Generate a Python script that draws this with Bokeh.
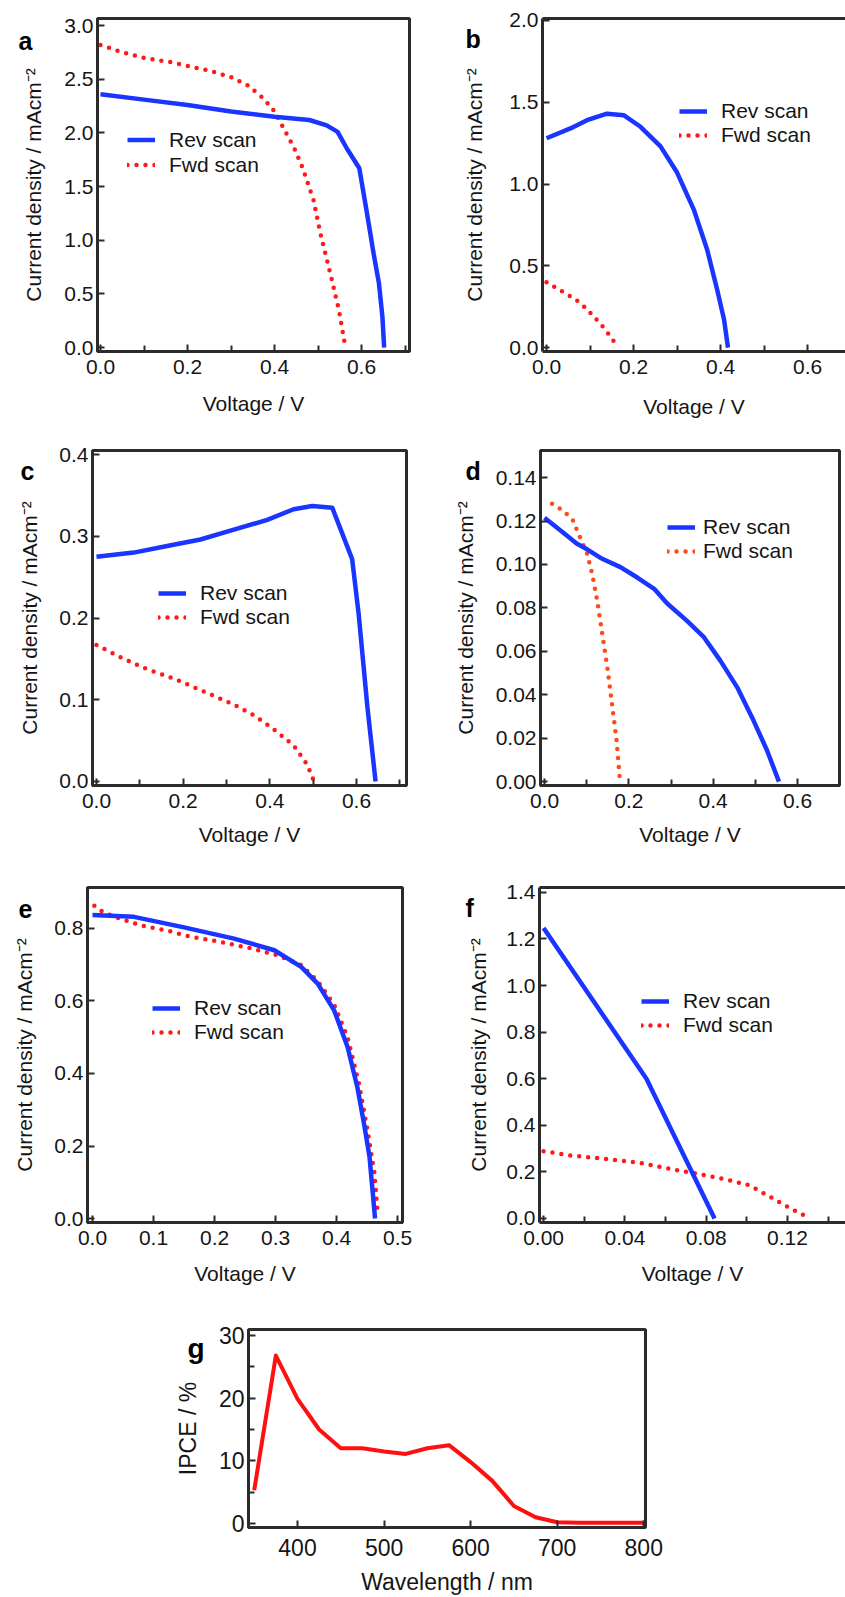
from bokeh.plotting import figure
from bokeh.layouts import column, row
from bokeh.models import (FixedTicker, PrintfTickFormatter, Legend, Label,
                          LegendItem, Range1d, Spacer, LinearAxis)
from bokeh.embed import file_html
from bokeh.resources import INLINE

# ---------------- data ----------------
a_rev_v = [0.00, 0.10, 0.20, 0.30, 0.40, 0.48, 0.52, 0.545, 0.567, 0.595, 0.613, 0.628, 0.64, 0.648, 0.652]
a_rev_j = [2.36, 2.31, 2.26, 2.20, 2.15, 2.12, 2.07, 2.01, 1.85, 1.67, 1.24, 0.87, 0.60, 0.29, 0.0]
a_fwd_v = [0.00, 0.05, 0.10, 0.16, 0.25, 0.30, 0.34, 0.375, 0.40, 0.42, 0.445, 0.465, 0.49, 0.505, 0.53, 0.548, 0.563]
a_fwd_j = [2.82, 2.75, 2.70, 2.66, 2.58, 2.52, 2.44, 2.32, 2.20, 2.05, 1.86, 1.67, 1.37, 1.07, 0.66, 0.35, 0.0]

b_rev_v = [0.0, 0.055, 0.093, 0.139, 0.178, 0.216, 0.262, 0.30, 0.339, 0.369, 0.392, 0.408, 0.417]
b_rev_j = [1.28, 1.34, 1.39, 1.43, 1.42, 1.35, 1.23, 1.07, 0.84, 0.60, 0.355, 0.17, 0.0]
b_fwd_v = [0.0, 0.025, 0.048, 0.069, 0.091, 0.112, 0.132, 0.149, 0.165]
b_fwd_j = [0.40, 0.36, 0.325, 0.29, 0.24, 0.18, 0.12, 0.06, 0.0]

c_rev_v = [0.0, 0.086, 0.163, 0.24, 0.317, 0.394, 0.455, 0.498, 0.544, 0.59, 0.605, 0.625, 0.644]
c_rev_j = [0.275, 0.28, 0.288, 0.296, 0.308, 0.32, 0.333, 0.337, 0.335, 0.272, 0.205, 0.092, 0.0]
c_fwd_v = [0.0, 0.048, 0.109, 0.178, 0.248, 0.317, 0.363, 0.409, 0.455, 0.486, 0.502]
c_fwd_j = [0.167, 0.154, 0.139, 0.126, 0.11, 0.094, 0.081, 0.064, 0.044, 0.021, 0.0]

d_rev_v = [0.0, 0.038, 0.077, 0.101, 0.133, 0.18, 0.22, 0.26, 0.291, 0.338, 0.378, 0.417, 0.457, 0.496, 0.528, 0.556]
d_rev_j = [0.1215, 0.1157, 0.1095, 0.107, 0.103, 0.0988, 0.094, 0.0888, 0.082, 0.074, 0.0665, 0.0557, 0.0434, 0.028, 0.0142, 0.0]
d_fwd_v = [0.018, 0.042, 0.066, 0.081, 0.101, 0.113, 0.125, 0.137, 0.149, 0.16, 0.171, 0.179]
d_fwd_j = [0.128, 0.125, 0.121, 0.114, 0.105, 0.0957, 0.0834, 0.068, 0.0526, 0.0357, 0.0188, 0.0]

e_rev_v = [0.0, 0.068, 0.15, 0.232, 0.298, 0.342, 0.369, 0.396, 0.418, 0.434, 0.445, 0.454, 0.459, 0.463]
e_rev_j = [0.837, 0.832, 0.803, 0.772, 0.74, 0.694, 0.648, 0.574, 0.473, 0.362, 0.261, 0.169, 0.076, 0.0]
e_fwd_v = [0.003, 0.019, 0.052, 0.085, 0.123, 0.161, 0.21, 0.26, 0.303, 0.342, 0.369, 0.396, 0.418, 0.437, 0.451, 0.462, 0.467]
e_fwd_j = [0.863, 0.843, 0.823, 0.806, 0.794, 0.777, 0.763, 0.745, 0.726, 0.699, 0.655, 0.59, 0.50, 0.37, 0.24, 0.125, 0.02]

f_rev_v = [0.0, 0.0506, 0.0841]
f_rev_j = [1.247, 0.60, 0.0]
f_fwd_v = [0.0, 0.013, 0.029, 0.047, 0.064, 0.077, 0.09, 0.101, 0.11, 0.12, 0.131]
f_fwd_j = [0.289, 0.271, 0.257, 0.239, 0.21, 0.19, 0.167, 0.143, 0.10, 0.05, 0.0]

g_wl = [350, 375, 400, 425, 450, 475, 500, 525, 550, 575, 600, 625, 650, 675, 700, 725, 750, 775, 800]
g_ipce = [5.3, 26.8, 19.9, 15.0, 12.0, 12.0, 11.5, 11.1, 12.0, 12.5, 9.8, 6.8, 2.8, 1.0, 0.2, 0.1, 0.1, 0.1, 0.1]

series_labels = ["Rev scan", "Fwd scan"]
panel_letters = ["a", "b", "c", "d", "e", "f", "g"]
volt_label = "Voltage / V"
cur_label = "Current density / mAcm\u207b\u00b2"

# ---------------- styling ----------------
FONT = "Liberation Sans"
INK = "#2b2b2b"
TXT = "#151515"
BLUE = "#1a35ff"
RED = "#ff1a1a"
ORANGE = "#ff4a1a"


def make_fig(fig_box, frame, xr, yr, open_right=False):
    fx, fy, fw, fh = fig_box
    l, t, r, b = frame
    p = figure(width=fw, height=fh, x_range=Range1d(*xr), y_range=Range1d(*yr),
               output_backend="svg", toolbar_location=None,
               min_border_left=l - fx, min_border_right=fx + fw - r,
               min_border_top=t - fy, min_border_bottom=fy + fh - b)
    p.xgrid.visible = False
    p.ygrid.visible = False
    if open_right:
        p.outline_line_color = None
        top = LinearAxis(ticker=FixedTicker(ticks=[]), major_label_text_font_size="0px",
                         axis_line_color=INK, axis_line_width=3,
                         major_tick_line_color=None, minor_tick_line_color=None)
        p.add_layout(top, "above")
    else:
        p.outline_line_color = INK
        p.outline_line_width = 3
        p.outline_line_alpha = 1
    p.background_fill_color = "white"
    p.border_fill_color = "white"
    return p


def style_axes(p, xticks, xminor, yticks, yminor, xfmt, yfmt, xlabel, ylabel,
               fs, x_ls, y_ls):
    xa = p.below[0]
    ya = p.left[0]
    for ax in (xa, ya):
        ax.axis_line_color = INK
        ax.axis_line_width = 3
        ax.major_tick_line_color = INK
        ax.major_tick_line_width = 2
        ax.minor_tick_line_color = INK
        ax.minor_tick_line_width = 2
        ax.major_tick_in = 7
        ax.major_tick_out = 0
        ax.minor_tick_in = 6
        ax.minor_tick_out = 0
        ax.major_label_text_font = FONT
        ax.major_label_text_font_size = f"{fs}px"
        ax.major_label_text_color = TXT
        ax.axis_label_text_font = FONT
        ax.axis_label_text_font_size = f"{fs}px"
        ax.axis_label_text_font_style = "normal"
        ax.axis_label_text_color = TXT
    xa.ticker = FixedTicker(ticks=xticks, minor_ticks=xminor)
    ya.ticker = FixedTicker(ticks=yticks, minor_ticks=yminor)
    xa.formatter = PrintfTickFormatter(format=xfmt)
    ya.formatter = PrintfTickFormatter(format=yfmt)
    xa.axis_label = xlabel
    ya.axis_label = ylabel
    xa.major_label_standoff = 8
    ya.major_label_standoff = 4
    xa.axis_label_standoff = x_ls
    ya.axis_label_standoff = y_ls


def letter(p, frame, xr, yr, text, px, py, size, side):
    # panel letter: a Label hosted in a side panel (so it is not clipped to the frame),
    # positioned through the plot's own scales
    l, t, r, b = frame
    x = xr[0] + (px - l) / (r - l) * (xr[1] - xr[0])
    y = yr[0] + (b - py) / (b - t) * (yr[1] - yr[0])
    p.add_layout(Label(x=x, y=y, text=text, text_font=FONT,
                       text_font_size=f"{size}px", text_font_style="bold",
                       text_color="black", text_align="left",
                       text_baseline="alphabetic"), side)


def add_legend(p, rev, fwd, loc, row_h, standoff, fs):
    leg = Legend(items=[LegendItem(label=series_labels[0], renderers=[rev]),
                        LegendItem(label=series_labels[1], renderers=[fwd])],
                 location=loc, padding=0, margin=0, spacing=0,
                 glyph_width=28, glyph_height=row_h, label_height=row_h,
                 label_standoff=standoff, border_line_color=None,
                 background_fill_alpha=0, label_text_font=FONT,
                 label_text_font_size=f"{fs}px", label_text_color=TXT)
    p.add_layout(leg)


def jv_panel(fig_box, frame, xr, yr, rv, rj, fv, fj, fwd_color,
             xticks, xminor, yticks, xfmt, yfmt, x_ls, y_ls,
             leg_loc, leg_row, leg_so, let, let_px, let_py, let_side, open_right):
    p = make_fig(fig_box, frame, xr, yr, open_right)
    style_axes(p, xticks, xminor, yticks, [], xfmt, yfmt, volt_label, cur_label,
               21, x_ls, y_ls)
    fwd = p.line(fv, fj, line_color=fwd_color, line_width=4.5, line_dash="0 9",
                 line_cap="round")
    rev = p.line(rv, rj, line_color=BLUE, line_width=4.5, line_join="round")
    add_legend(p, rev, fwd, leg_loc, leg_row, leg_so, 21)
    letter(p, frame, xr, yr, let, let_px, let_py, 25, let_side)
    return p


A_BOX, A_FR = (0, 0, 433, 420), (97, 16, 409, 352)
B_BOX, B_FR = (433, 0, 412, 420), (542, 18, 845, 352)
C_BOX, C_FR = (0, 420, 420, 430), (92, 449, 406, 785)
D_BOX, D_FR = (420, 420, 425, 430), (540, 450, 839, 785)
E_BOX, E_FR = (0, 850, 420, 440), (87, 887, 402, 1222)
F_BOX, F_FR = (420, 850, 425, 440), (539, 887, 845, 1222)
G_BOX, G_FR = (150, 1290, 550, 307), (248, 1329, 645, 1527)

pa = jv_panel(A_BOX, A_FR, (-0.0069, 0.7103), (-0.037, 3.066),
              a_rev_v, a_rev_j, a_fwd_v, a_fwd_j, RED,
              [0, 0.2, 0.4, 0.6], [0.1, 0.3, 0.5, 0.7],
              [0, 0.5, 1.0, 1.5, 2.0, 2.5, 3.0], "%.1f", "%.1f", 15, 16,
              (30, 174), 25, 14, panel_letters[0], 18, 39, "right", False)

pb = jv_panel(B_BOX, B_FR, (-0.0092, 0.687), (-0.024, 2.012),
              b_rev_v, b_rev_j, b_fwd_v, b_fwd_j, RED,
              [0, 0.2, 0.4, 0.6], [0.1, 0.3, 0.5],
              [0, 0.5, 1.0, 1.5, 2.0], "%.1f", "%.1f", 18, 20,
              (137, 204), 22, 14, panel_letters[1], 465, 39, "left", True)

pc = jv_panel(C_BOX, C_FR, (-0.0092, 0.7154), (-0.0049, 0.4049),
              c_rev_v, c_rev_j, c_fwd_v, c_fwd_j, RED,
              [0, 0.2, 0.4, 0.6], [0.1, 0.3, 0.5, 0.7],
              [0, 0.1, 0.2, 0.3, 0.4], "%.1f", "%.1f", 12, 15,
              (66, 156), 24, 14, panel_letters[2], 20, 470, "above", False)

pd = jv_panel(D_BOX, D_FR, (-0.0095, 0.6996), (-0.0018, 0.1525),
              d_rev_v, d_rev_j, d_fwd_v, d_fwd_j, ORANGE,
              [0, 0.2, 0.4, 0.6], [0.1, 0.3, 0.5, 0.7],
              [0, 0.02, 0.04, 0.06, 0.08, 0.10, 0.12, 0.14], "%.1f", "%.2f", 12, 16,
              (127, 222), 24, 8, panel_letters[3], 465, 470, "above", False)

pe = jv_panel(E_BOX, E_FR, (-0.0082, 0.508), (-0.011, 0.913),
              e_rev_v, e_rev_j, e_fwd_v, e_fwd_j, RED,
              [0, 0.1, 0.2, 0.3, 0.4, 0.5], [],
              [0, 0.2, 0.4, 0.6, 0.8], "%.1f", "%.1f", 14, 15,
              (65, 178), 22, 14, panel_letters[4], 18, 908, "above", False)

pf = jv_panel(F_BOX, F_FR, (-0.002, 0.1485), (-0.0172, 1.421),
              f_rev_v, f_rev_j, f_fwd_v, f_fwd_j, RED,
              [0, 0.04, 0.08, 0.12], [0.02, 0.06, 0.10, 0.14],
              [0, 0.2, 0.4, 0.6, 0.8, 1.0, 1.2, 1.4], "%.2f", "%.1f", 14, 13,
              (102, 185), 22, 14, panel_letters[5], 465, 907, "left", True)

# panel g (IPCE)
g_xr = (343.4, 802.0)
g_yr = (-0.64, 30.96)
pg = make_fig(G_BOX, G_FR, g_xr, g_yr)
style_axes(pg, [400, 500, 600, 700, 800], [], [0, 10, 20, 30], [5, 15, 25],
           "%d", "%d", "Wavelength / nm", "IPCE / %", 23, 10, 15)
pg.xaxis[0].major_label_standoff = 11
pg.line(g_wl, g_ipce, line_color="#ff1010", line_width=4, line_join="round")
letter(pg, G_FR, g_xr, g_yr, panel_letters[6], 187, 1348, 28, "above")

layout = column(row(pa, pb), row(pc, pd), row(pe, pf),
                row(Spacer(width=150, height=307), pg))

open("out.html", "w").write(file_html(layout, INLINE))
